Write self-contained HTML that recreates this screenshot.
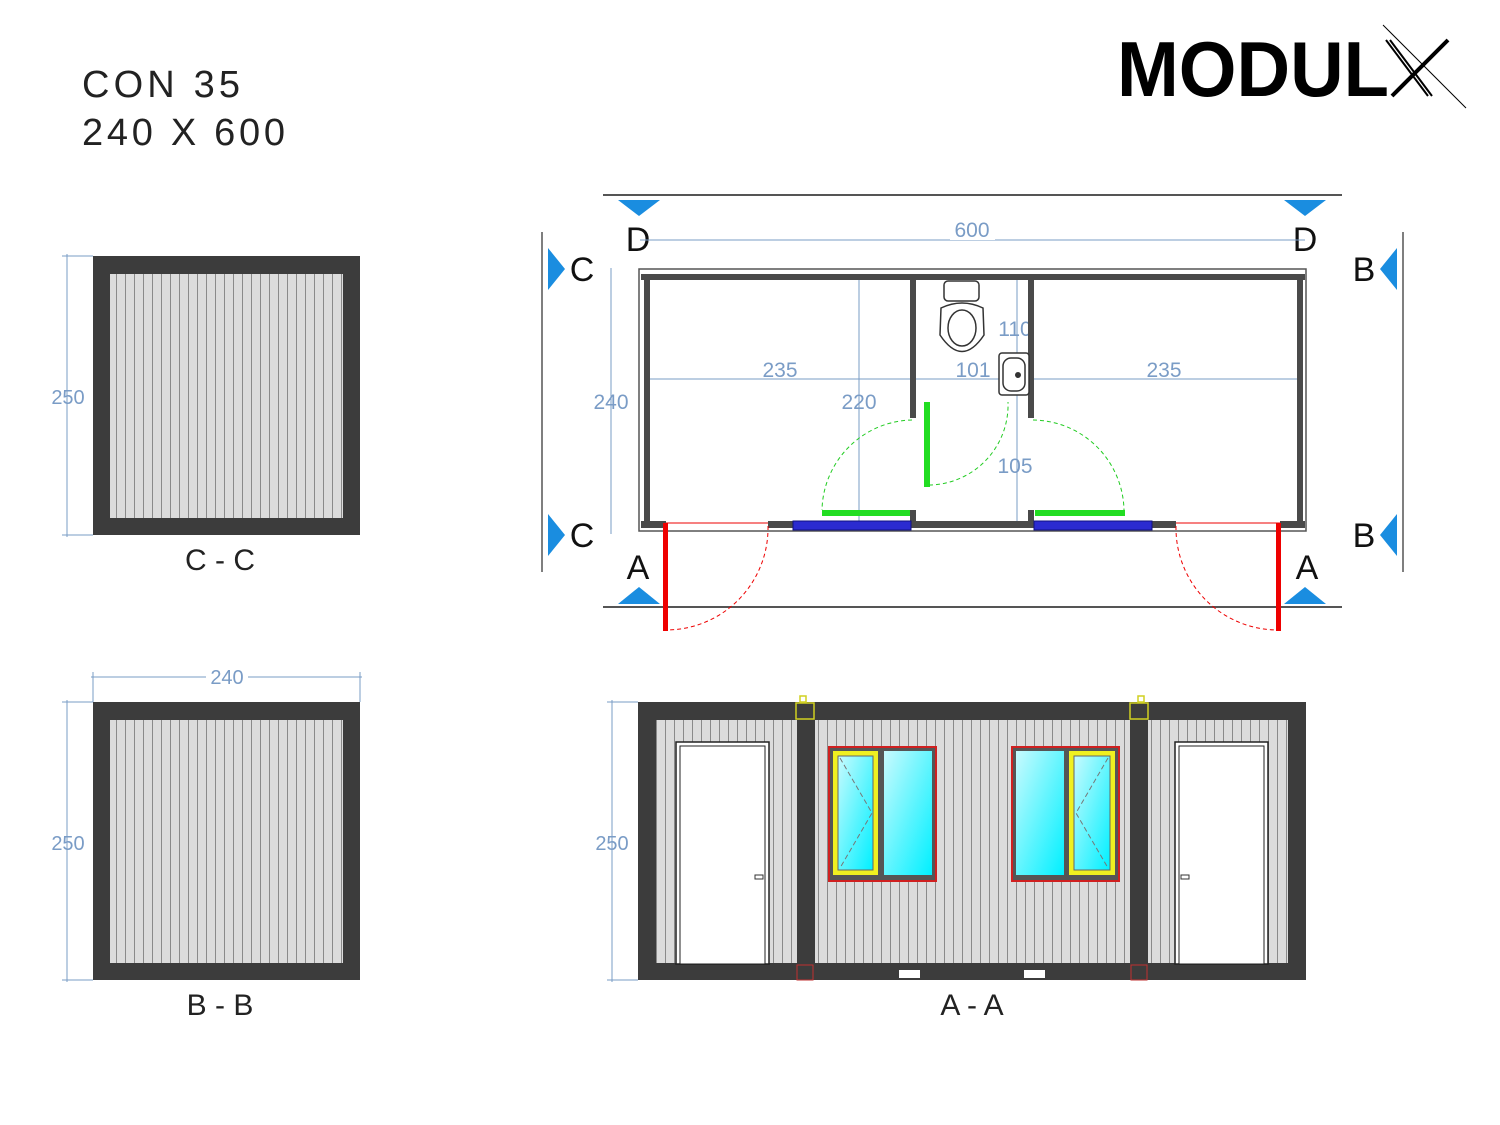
<!DOCTYPE html>
<html><head><meta charset="utf-8"><style>
html,body{margin:0;padding:0;background:#fff}
svg{display:block}
text{font-family:"Liberation Sans",sans-serif}
</style></head><body>
<svg width="1500" height="1125" viewBox="0 0 1500 1125" xmlns="http://www.w3.org/2000/svg">
<defs>
<pattern id="st" width="9" height="10" patternUnits="userSpaceOnUse">
<rect width="9" height="10" fill="#dcdcdc"/><rect x="8" width="1" height="10" fill="#8a8a8a"/>
</pattern>
<linearGradient id="gl" x1="0" y1="0" x2="1" y2="1"><stop offset="0" stop-color="#c8fafe"/><stop offset="1" stop-color="#00f0ff"/></linearGradient>
</defs>
<rect width="1500" height="1125" fill="#fff"/>

<text x="82" y="97" font-size="38" fill="#222" textLength="158" lengthAdjust="spacing">CON 35</text>
<text x="82" y="145" font-size="38" fill="#222" textLength="203" lengthAdjust="spacing">240 X 600</text>

<text x="1117" y="96" font-size="78" font-weight="bold" fill="#000" textLength="272" lengthAdjust="spacingAndGlyphs">MODUL</text>
<g stroke="#000" fill="none">
<path d="M1390 40 L1432 96 M1386 40 L1428 96" stroke-width="2"/>
<path d="M1448 40 L1392 96" stroke-width="4"/>
<path d="M1383 25 L1466 108" stroke-width="1"/>
</g>

<g>
<rect x="93" y="256" width="267" height="279" fill="#3c3c3c"/>
<rect x="110" y="274" width="233" height="244" fill="url(#st)"/>
<g stroke="#7a9cc6" stroke-width="1">
<line x1="67" y1="254" x2="67" y2="537"/><line x1="62" y1="256" x2="93" y2="256"/><line x1="62" y1="535" x2="93" y2="535"/>
</g>
<text x="68" y="404" font-size="20" fill="#7a9cc6" text-anchor="middle">250</text>
<text x="220" y="570" font-size="30" fill="#222" text-anchor="middle">C - C</text>
</g>

<g>
<rect x="93" y="702" width="267" height="278" fill="#3c3c3c"/>
<rect x="110" y="720" width="233" height="243" fill="url(#st)"/>
<g stroke="#7a9cc6" stroke-width="1">
<line x1="67" y1="700" x2="67" y2="982"/><line x1="62" y1="702" x2="93" y2="702"/><line x1="62" y1="980" x2="93" y2="980"/>
<line x1="91" y1="677" x2="362" y2="677"/><line x1="93" y1="672" x2="93" y2="702"/><line x1="360" y1="672" x2="360" y2="702"/>
</g>
<rect x="206" y="667" width="42" height="20" fill="#fff"/>
<text x="227" y="684" font-size="20" fill="#7a9cc6" text-anchor="middle">240</text>
<text x="68" y="850" font-size="20" fill="#7a9cc6" text-anchor="middle">250</text>
<text x="220" y="1015" font-size="30" fill="#222" text-anchor="middle">B - B</text>
</g>

<g>
<line x1="603" y1="195" x2="1342" y2="195" stroke="#555" stroke-width="2"/>
<line x1="603" y1="607" x2="1342" y2="607" stroke="#555" stroke-width="2"/>
<line x1="542" y1="232" x2="542" y2="572" stroke="#555" stroke-width="1.5"/>
<line x1="1403" y1="232" x2="1403" y2="572" stroke="#555" stroke-width="1.5"/>
<g fill="#1a8de0">
<polygon points="618,200 660,200 639,216"/><polygon points="1284,200 1326,200 1305,216"/>
<polygon points="618,604 660,604 639,587"/><polygon points="1284,604 1326,604 1305,587"/>
<polygon points="548,248 548,290 565,269"/><polygon points="548,514 548,556 565,535"/>
<polygon points="1397,248 1397,290 1380,269"/><polygon points="1397,514 1397,556 1380,535"/>
</g>
<g font-size="34" fill="#111" text-anchor="middle">
<text x="638" y="251">D</text><text x="1305" y="251">D</text>
<text x="582" y="281">C</text><text x="582" y="547">C</text>
<text x="1364" y="281">B</text><text x="1364" y="547">B</text>
<text x="638" y="579">A</text><text x="1307" y="579">A</text>
</g>
<g stroke="#7a9cc6" stroke-width="1">
<line x1="640" y1="240" x2="1305" y2="240"/>
<line x1="611" y1="268" x2="611" y2="534"/>
<line x1="648" y1="379" x2="1300" y2="379"/>
<line x1="859" y1="278" x2="859" y2="525"/>
<line x1="1017" y1="278" x2="1017" y2="525"/>
</g>
<rect x="950" y="218" width="45" height="22" fill="#fff"/>
<g font-size="21" fill="#7a9cc6" text-anchor="middle">
<text x="972" y="237">600</text>
<text x="611" y="409">240</text>
<text x="780" y="377">235</text>
<text x="1164" y="377">235</text>
<text x="973" y="377">101</text>
<text x="1015" y="336">110</text>
<text x="859" y="409">220</text>
<text x="1015" y="473">105</text>
</g>
<rect x="639" y="269" width="667" height="262" fill="none" stroke="#555" stroke-width="1.5"/>
<g fill="#4a4a4a">
<rect x="641" y="274" width="664" height="6"/>
<rect x="644" y="274" width="6" height="252"/>
<rect x="1297" y="274" width="6" height="252"/>
<rect x="641" y="521" width="25" height="7"/>
<rect x="768" y="521" width="408" height="7"/>
<rect x="1280" y="521" width="25" height="7"/>
<rect x="910" y="278" width="6" height="140"/>
<rect x="1028" y="278" width="6" height="140"/>
<rect x="910" y="510" width="6" height="14"/>
<rect x="1028" y="510" width="6" height="14"/>
</g>
<g fill="#2b2bd0" stroke="#101080" stroke-width="1">
<rect x="793" y="521" width="118" height="9"/><rect x="1034" y="521" width="118" height="9"/>
</g>
<g stroke="#e00" fill="none">
<line x1="666" y1="523" x2="768" y2="523"/><line x1="1176" y1="523" x2="1280" y2="523"/>
<path d="M768 526 A102 102 0 0 1 666 630" stroke-dasharray="4,3"/>
<path d="M1176 526 A102 102 0 0 0 1278 630" stroke-dasharray="4,3"/>
</g>
<rect x="663" y="523" width="5" height="108" fill="#e00"/>
<rect x="1276" y="523" width="5" height="108" fill="#e00"/>
<g fill="#22dd22">
<rect x="822" y="510" width="88" height="6"/>
<rect x="1035" y="510" width="90" height="6"/>
<rect x="924" y="402" width="6" height="85"/>
</g>
<g stroke="#22cc22" fill="none" stroke-dasharray="4,3">
<path d="M912 420 A92 92 0 0 0 822 510"/>
<path d="M1033 420 A92 92 0 0 1 1124 510"/>
<path d="M929 485 A80 80 0 0 0 1008 402"/>
</g>
<g fill="#fff" stroke="#333" stroke-width="1.5">
<rect x="944" y="281" width="35" height="20" rx="4"/>
<path d="M941 308 Q962 298 983 308 L984 335 Q962 368 940 335 Z"/>
<ellipse cx="962" cy="328" rx="14" ry="18"/>
<rect x="999" y="353" width="30" height="42" rx="3"/>
<rect x="1003" y="358" width="22" height="33" rx="8"/>
</g>
<circle cx="1018" cy="375" r="3" fill="#333"/>
</g>

<g>
<rect x="638" y="702" width="668" height="278" fill="#3c3c3c"/>
<rect x="656" y="720" width="141" height="243" fill="url(#st)"/>
<rect x="815" y="720" width="315" height="243" fill="url(#st)"/>
<rect x="1148" y="720" width="140" height="243" fill="url(#st)"/>
<rect x="676" y="742" width="93" height="222" fill="#fff" stroke="#222" stroke-width="1.5"/>
<rect x="680" y="746" width="85" height="218" fill="#fff" stroke="#222" stroke-width="1"/>
<rect x="1175" y="742" width="93" height="222" fill="#fff" stroke="#222" stroke-width="1.5"/>
<rect x="1179" y="746" width="85" height="218" fill="#fff" stroke="#222" stroke-width="1"/>
<rect x="755" y="875" width="8" height="4" fill="#fff" stroke="#333"/>
<rect x="1181" y="875" width="8" height="4" fill="#fff" stroke="#333"/>
<rect x="829" y="747" width="107" height="134" fill="#555" stroke="#d02020" stroke-width="2"/>
<rect x="833" y="751" width="45" height="124" fill="#f0f020"/>
<rect x="838" y="756" width="35" height="114" fill="url(#gl)" stroke="#666"/>
<rect x="884" y="751" width="48" height="124" fill="url(#gl)"/>
<path d="M840 758 L872 813 L840 868" stroke="#777" fill="none" stroke-dasharray="5,3"/>
<rect x="1012" y="747" width="107" height="134" fill="#555" stroke="#d02020" stroke-width="2"/>
<rect x="1016" y="751" width="48" height="124" fill="url(#gl)"/>
<rect x="1069" y="751" width="46" height="124" fill="#f0f020"/>
<rect x="1074" y="756" width="36" height="114" fill="url(#gl)" stroke="#666"/>
<path d="M1108 758 L1076 813 L1108 868" stroke="#777" fill="none" stroke-dasharray="5,3"/>
<rect x="899" y="970" width="21" height="8" fill="#fff"/>
<rect x="1024" y="970" width="21" height="8" fill="#fff"/>
<g fill="none" stroke="#d0d020" stroke-width="1.5">
<rect x="796" y="703" width="18" height="16"/><rect x="1130" y="703" width="18" height="16"/>
<rect x="800" y="696" width="6" height="6"/><rect x="1138" y="696" width="6" height="6"/>
</g>
<g fill="none" stroke="#c03030" stroke-width="1">
<rect x="797" y="965" width="16" height="15"/><rect x="1131" y="965" width="16" height="15"/>
</g>
<g stroke="#7a9cc6" stroke-width="1">
<line x1="612" y1="700" x2="612" y2="982"/><line x1="607" y1="702" x2="638" y2="702"/><line x1="607" y1="980" x2="638" y2="980"/>
</g>
<text x="612" y="850" font-size="20" fill="#7a9cc6" text-anchor="middle">250</text>
<text x="972" y="1015" font-size="30" fill="#222" text-anchor="middle">A - A</text>
</g>
</svg>
</body></html>
